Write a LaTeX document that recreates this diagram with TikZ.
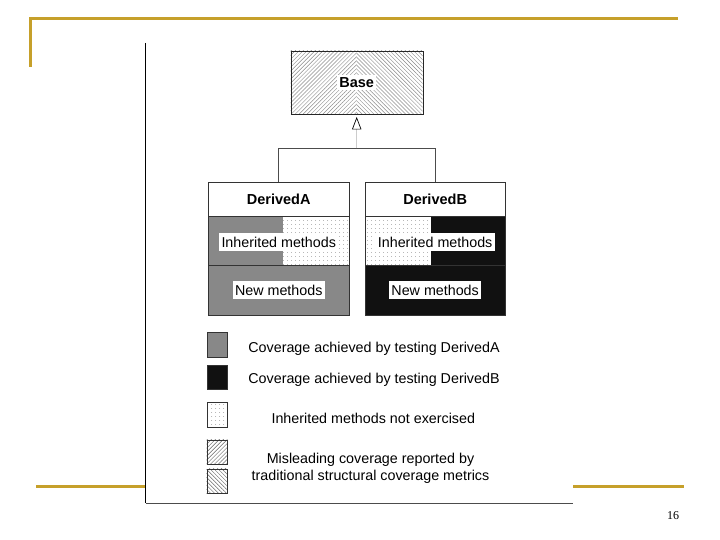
\documentclass[tikz,border=0pt]{standalone}
\usepackage{fontspec}
\setmainfont{Liberation Sans}
\newfontfamily\slidefont{Liberation Serif}
\usepackage{tikz}
\usetikzlibrary{arrows.meta,positioning,patterns.meta}

\definecolor{slidegold}{RGB}{198,160,42}
\definecolor{covA}{RGB}{136,136,136}
\definecolor{covB}{RGB}{17,17,17}

\begin{document}
\begin{tikzpicture}[
  x=1pt, y=-1pt,
  font=\fontsize{14.3}{17}\selectfont,
  goldrule/.style = {draw=slidegold, line width=3pt},
  notex/.style    = {pattern={Dots[distance=4pt,radius=0.4pt]}, pattern color=black!65},
  hatchne/.style  = {pattern={Lines[angle=45,distance=2.8pt,line width=0.45pt]}, pattern color=black!60},
  hatchnw/.style  = {pattern={Lines[angle=-45,distance=2.8pt,line width=0.45pt]}, pattern color=black!60},
  basebox/.style  = {draw=black!85, minimum width=132pt, minimum height=63pt, inner sep=0pt,
                     path picture={
                       \fill[hatchne, pattern color=black!45] (path picture bounding box.north west) rectangle (path picture bounding box.south);
                       \fill[hatchnw, pattern color=black!45] (path picture bounding box.north) rectangle (path picture bounding box.south east);}},
  clshead/.style  = {draw=black!80, fill=white, minimum width=140.5pt, minimum height=34pt,
                     inner sep=0pt, outer sep=0pt, font=\fontsize{14.5}{17}\selectfont\bfseries},
  clsrow/.style   = {draw=black!80, minimum width=140.5pt, minimum height=49.5pt,
                     inner sep=0pt, outer sep=0pt},
  lbl/.style      = {fill=white, inner xsep=2.5pt, inner ysep=3.5pt},
  legsq/.style    = {draw=black!80, minimum width=20.6pt, minimum height=24.5pt, inner sep=0pt},
  inh/.style      = {draw=black!70, line width=0.8pt},
]

%% ─── slide frame ──────────────────────────────────────────────────────────
\fill[white] (0,0) rectangle (720,540);
\draw[goldrule] (30.5,66.7) -- (30.5,18.3) -- (678,18.3);
\draw[goldrule] (36,486) -- (146,486);
\draw[goldrule] (573,486) -- (684,486);
\draw[black, line width=1pt] (145.7,43) -- (145.7,503.3);
\draw[black!70, line width=1.2pt] (145.7,503.3) -- (572.7,503.3);
\node[font=\slidefont\fontsize{12}{14}\selectfont] (pgno) at (673,516) {16};

%% ─── base class ───────────────────────────────────────────────────────────
\node[basebox] (base) at (356.7,82.5) {};
\node[lbl, inner xsep=2pt, inner ysep=2.5pt, font=\fontsize{14.5}{17}\selectfont\bfseries] (basetxt) at (base) {Base};

%% ─── derived classes ──────────────────────────────────────────────────────
\node[clshead] (hdA) at (278.75,199) {DerivedA};
\node[clsrow, below=0pt of hdA] (inhA) {};
\node[clsrow, below=0pt of inhA, fill=covA] (newA) {};

\node[clshead] (hdB) at (435.15,199) {DerivedB};
\node[clsrow, below=0pt of hdB] (inhB) {};
\node[clsrow, below=0pt of inhB, fill=covB] (newB) {};

% inherited rows: part covered, part not exercised
\fill[covA] (inhA.north west) rectangle ([xshift=74.2pt]inhA.south west);
\fill[notex] ([xshift=74.2pt]inhA.north west) rectangle (inhA.south east);
\fill[notex] (inhB.north west) rectangle ([xshift=65.7pt]inhB.south west);
\fill[covB] ([xshift=65.7pt]inhB.north west) rectangle (inhB.south east);
\draw[black!80] (inhA.north west) rectangle (inhA.south east);
\draw[black!80] (inhB.north west) rectangle (inhB.south east);

\node[lbl] (inhAl) at ([yshift=-1.5pt]inhA.center) {Inherited methods};
\node[lbl] (newAl) at (newA) {New methods};
\node[lbl] (inhBl) at ([yshift=-1.5pt]inhB.center) {Inherited methods};
\node[lbl] (newBl) at (newB) {New methods};

%% ─── inheritance connector ────────────────────────────────────────────────
\draw[inh] (hdA.north) -- ++(0,-33.7) coordinate (jl) -| (hdB.north);
\coordinate (jn) at (jl -| base.south);
\draw[draw=black!20, line width=0.8pt, shorten >=2.7pt,
      -{Triangle[open, length=12.6pt, width=9.4pt, color=black, line width=0.7pt]}]
  (jn) -- (base.south);

%% ─── legend ───────────────────────────────────────────────────────────────
\node[legsq, fill=covA] (legA) at (217,344.5) {};
\node[legsq, fill=covB] (legB) at (217,377) {};
\node[legsq, notex]     (legN) at (217,414.5) {};
\node[legsq, hatchne]   (legM1) at (217,452) {};
\node[legsq, hatchnw]   (legM2) at (217,481) {};

\node (txtA) at (374,349) {Coverage achieved by testing DerivedA};
\node (txtB) at (374,380) {Coverage achieved by testing DerivedB};
\node (txtN) at (373.3,418) {Inherited methods not exercised};
\node[align=center] (txtM) at (370.5,468.5) {Misleading coverage reported by\\traditional structural coverage metrics};

\end{tikzpicture}
\end{document}
